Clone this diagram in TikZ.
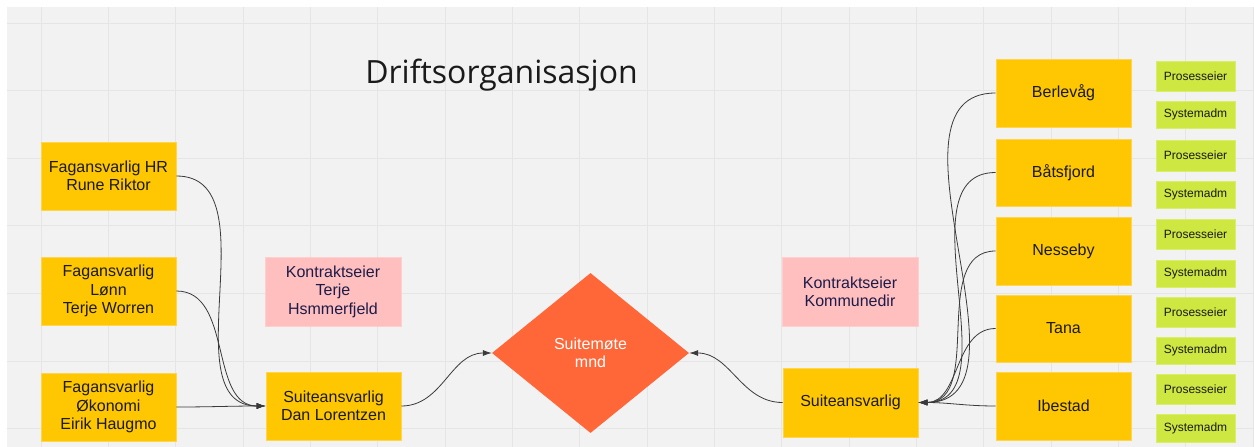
\documentclass[tikz,border=0pt]{standalone}
\usepackage{fontspec}
\setmainfont{Liberation Sans}
\newfontfamily\titlefont{Open Sans}
\usetikzlibrary{shapes.geometric,arrows.meta}
\definecolor{bgc}{HTML}{F2F2F2}
\definecolor{gridc}{HTML}{E5E5E5}
\definecolor{yel}{HTML}{FFC702}
\definecolor{yeledge}{HTML}{FFD54F}
\definecolor{pnk}{HTML}{FFBFBF}
\definecolor{pnkedge}{HTML}{FFCFCF}
\definecolor{grn}{HTML}{CEE741}
\definecolor{grnedge}{HTML}{DAEE6A}
\definecolor{dia}{HTML}{FF6638}
\definecolor{navy}{HTML}{1C1C4A}
\definecolor{txt}{HTML}{1A1A1A}
\definecolor{linec}{HTML}{3A3A3A}
\tikzset{
  ybox/.style={rectangle, fill=yel, draw=yeledge, line width=0.8pt, minimum width=135pt, minimum height=68pt, inner sep=0pt, align=center, text=txt, font=\fontsize{16}{18.4}\selectfont},
  pbox/.style={rectangle, fill=pnk, draw=pnkedge, line width=0.8pt, minimum width=136pt, minimum height=69pt, inner sep=0pt, align=center, text=navy, font=\fontsize{16}{18.4}\selectfont},
  gbox/.style={rectangle, fill=grn, draw=grnedge, line width=0.8pt, minimum width=79pt, minimum height=29pt, inner sep=0pt, align=center, text=txt, font=\fontsize{12}{14}\selectfont},
  dbox/.style={diamond, fill=dia, minimum width=197pt, minimum height=160pt, aspect=1.23, inner sep=0pt, align=center, text=white, font=\fontsize{16}{18.4}\selectfont},
  conn/.style={draw=linec, line width=0.8pt, -{Latex[length=9pt,width=6pt]}},
}
\begin{document}
\begin{tikzpicture}[x=1pt,y=-1pt]
\useasboundingbox (0,0) rectangle (1254,447);
\fill[white] (0,0) rectangle (1254,447);
\fill[bgc] (7,7) rectangle (1254,447);
\foreach \k in {0,...,18} {\draw[gridc, line width=1pt] ({41+67.35*\k},7) -- ({41+67.35*\k},447);}
\foreach \k in {0,...,6} {\draw[gridc, line width=1pt] (7,{23+67.6*\k}) -- (1254,{23+67.6*\k});}

\node[anchor=base, text=txt, font=\titlefont\fontsize{32}{36}\selectfont] (title) at (501.5,83) {Driftsorganisasjon};

% left column
\node[ybox] (hr) at (108.5,176) {Fagansvarlig HR\\Rune Riktor};
\node[ybox] (lonn) at (108.5,291) {Fagansvarlig\\Lønn\\Terje Worren};
\node[ybox] (oko) at (108.5,407) {Fagansvarlig\\Økonomi\\Eirik Haugmo};
\node[pbox] (kl) at (333,291.5) {Kontraktseier\\Terje\\Hsmmerfjeld};
\node[ybox] (dan) at (333.5,406) {Suiteansvarlig\\Dan Lorentzen};

% center
\node[dbox] (mote) at (590.5,353) {Suitemøte\\mnd};

% right
\node[pbox] (kr) at (850,291.5) {Kontraktseier\\Kommunedir};
\node[ybox, minimum height=69pt] (sr) at (850.5,402.5) {Suiteansvarlig};

\node[ybox] (ber) at (1063.5,93) {Berlevåg};
\node[ybox, minimum height=67pt] (bat) at (1063.5,172.5) {Båtsfjord};
\node[ybox] (nes) at (1063.5,251) {Nesseby};
\node[ybox, minimum height=67pt] (tan) at (1063.5,328.5) {Tana};
\node[ybox] (ibe) at (1063.5,406) {Ibestad};

\node[gbox, minimum height=30pt] (p1) at (1195.5,76) {Prosesseier};
\node[gbox, minimum height=27pt] (s1) at (1195.5,114.5) {Systemadm};
\node[gbox, minimum height=31pt] (p2) at (1195.5,155.5) {Prosesseier};
\node[gbox, minimum height=27pt] (s2) at (1195.5,194.5) {Systemadm};
\node[gbox, minimum height=30pt] (p3) at (1195.5,234) {Prosesseier};
\node[gbox, minimum height=27pt] (s3) at (1195.5,273.5) {Systemadm};
\node[gbox, minimum height=30pt] (p4) at (1195.5,312) {Prosesseier};
\node[gbox, minimum height=27pt] (s4) at (1195.5,350.5) {Systemadm};
\node[gbox, minimum height=30pt] (p5) at (1195.5,389) {Prosesseier};
\node[gbox, minimum height=28pt] (s5) at (1195.5,428) {Systemadm};

% connectors left
\draw[conn] (hr.east) to[out=0,in=180] (dan.west);
\draw[conn] (lonn.east) to[out=0,in=180] (dan.west);
\draw[conn] (oko.east) to[out=0,in=180] (dan.west);
\draw[conn] (dan.east) to[out=0,in=180] (mote.west);
% connectors right
\draw[conn] (sr.west) to[out=180,in=0] (mote.east);
\draw[conn] (ber.west) to[out=180,in=0] (sr.east);
\draw[conn] (bat.west) to[out=180,in=0] (sr.east);
\draw[conn] (nes.west) to[out=180,in=0] (sr.east);
\draw[conn] (tan.west) to[out=180,in=0] (sr.east);
\draw[conn] (ibe.west) to[out=180,in=0] (sr.east);
\end{tikzpicture}
\end{document}
